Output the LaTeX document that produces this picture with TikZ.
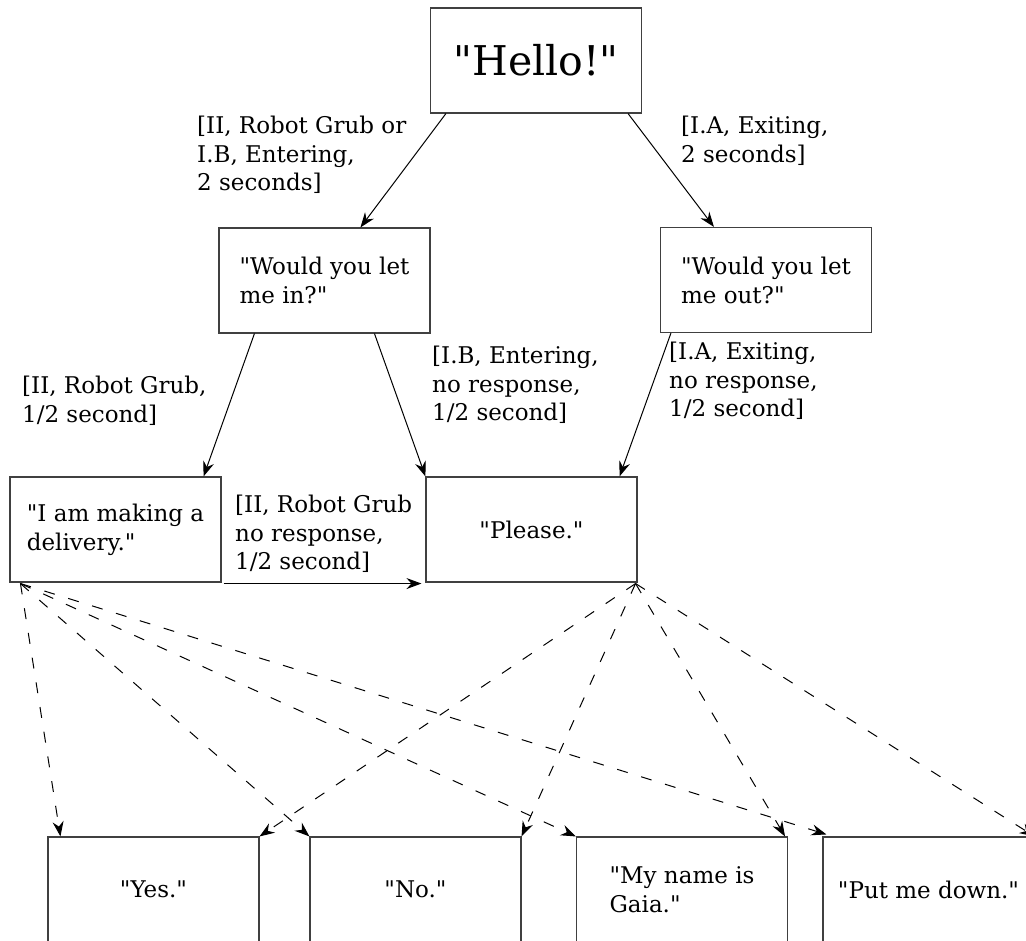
\documentclass[tikz,border=0pt]{standalone}
\usepackage{fontspec}
\setmainfont{DejaVu Serif}[Ligatures=TeXOff]
\usetikzlibrary{arrows.meta,calc}
\begin{document}
\begin{tikzpicture}[x=1pt,y=-1pt,
  box/.style={draw=black!75, line width=1.1pt, minimum width=211pt, minimum height=105pt,
    inner sep=0pt, align=left, font=\fontsize{23}{29}\selectfont},
  lbl/.style={anchor=north west, inner sep=0pt, align=left, font=\fontsize{23}{28.5}\selectfont},
  arr/.style={line width=1pt, -{Stealth[length=15pt,width=11pt,inset=5pt]}},
  darr/.style={arr, dash pattern=on 11pt off 14pt}]
\useasboundingbox (0,0) rectangle (1026,941);
\clip (0,0) rectangle (1026,941);

% boxes
\node[box, font=\fontsize{41}{49}\selectfont] (hello) at (536,60.5) {"Hello!"};
\node[box] (in) at (324.5,280.5) {"Would you let\\me in?"};
\node[box] (out) at (766,280) {"Would you let\\me out?"};
\node[box] (del) at (115.5,529.5) {"I am making a\\delivery."};
\node[box] (please) at (531.5,529.5) {"Please."};
\node[box] (yes) at (153.5,889.5) {"Yes."};
\node[box] (no) at (415.5,889.5) {"No."};
\node[box] (gaia) at (682,889.5) {"My name is\\Gaia."};
\node[box] (down) at (928.5,889.5) {"Put me down."};

% labels
\node[lbl] (l1) at (197,116) {[II, Robot Grub or\\I.B, Entering,\\2 seconds]};
\node[lbl] (l2) at (681,116) {[I.A, Exiting,\\2 seconds]};
\node[lbl] (l3) at (22,376) {[II, Robot Grub,\\1/2 second]};
\node[lbl] (l4) at (432,346) {[I.B, Entering,\\no response,\\1/2 second]};
\node[lbl] (l5) at (669,342) {[I.A, Exiting,\\no response,\\1/2 second]};
\node[lbl] (l6) at (235,495) {[II, Robot Grub\\no response,\\1/2 second]};

% solid connectors
\draw[arr] ($(hello.south west)+(16,0)$) -- ($(in.north west)+(142,0)$);
\draw[arr] ($(hello.south east)+(-14,0)$) -- ($(out.north west)+(54,0)$);
\draw[arr] ($(in.south west)+(36,0)$) -- ($(del.north east)+(-18,0)$);
\draw[arr] ($(in.south west)+(156,0)$) -- (please.north west);
\draw[arr] ($(out.south west)+(11,0)$) -- ($(please.north east)+(-18,0)$);
\draw[arr] ($(del.south east)+(2,1)$) -- ($(please.south west)+(-4,1)$);

% dashed connectors
\coordinate (D) at ($(del.south west)+(11,1)$);
\coordinate (P) at ($(please.south east)+(-2,1)$);
\draw[darr] (D) -- ($(yes.north west)+(13,0)$);
\draw[darr] (D) -- (no.north west);
\draw[darr] (D) -- (gaia.north west);
\draw[darr] (D) -- ($(down.north west)+(4,-2)$);
\draw[darr] (P) -- (yes.north east);
\draw[darr] (P) -- (no.north east);
\draw[darr] (P) -- ($(gaia.north east)+(-3,0)$);
\draw[darr] (P) -- (down.north east);
\end{tikzpicture}
\end{document}
